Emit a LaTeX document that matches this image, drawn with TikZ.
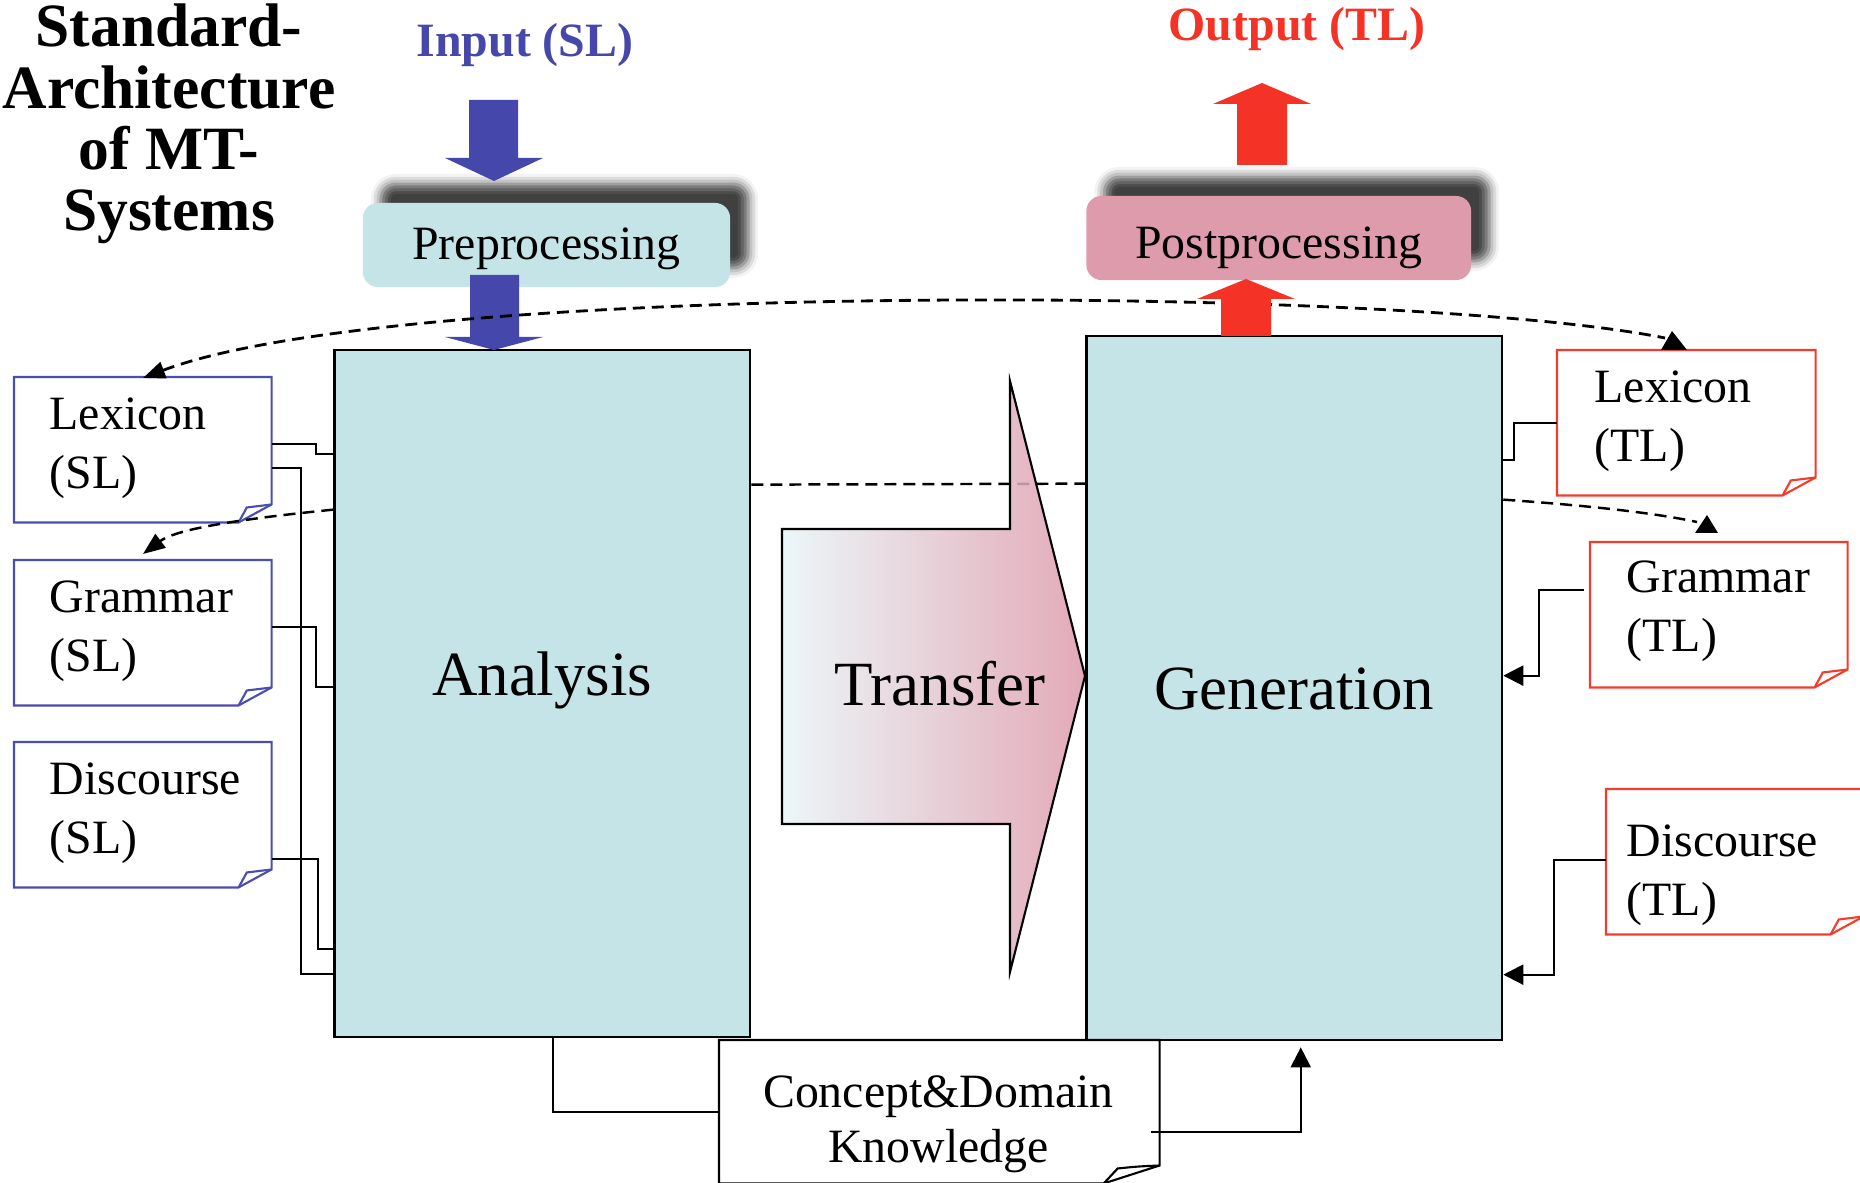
\documentclass[tikz,border=0pt]{standalone}
\usepackage{fontspec}
\setmainfont{Liberation Serif}
\usetikzlibrary{arrows.meta,calc,shadows.blur}
\definecolor{boxcyan}{HTML}{C5E4E7}
\definecolor{boxpink}{HTML}{DE9BAC}
\definecolor{arrblue}{HTML}{4548AA}
\definecolor{arrred}{HTML}{F43226}
\definecolor{docblue}{HTML}{4A4EB0}
\definecolor{docred}{HTML}{F43C2C}
\definecolor{tleft}{HTML}{E8F5F7}
\newcommand\bigfnt{\fontsize{17.9pt}{20pt}\selectfont}
\newcommand\medfnt{\fontsize{13.6pt}{16.5pt}\selectfont}
\newcommand\twolines[2]{\begin{tabular}[t]{@{}l@{}}#1\\#2\end{tabular}}
\newcommand\docoutline[3]{%
  \draw[#2, line width=0.6pt, fill=white] (#1.north west) -- (#1.north east) -- ($(#1.south east)+(0,-18)$) -- ($(#1.south east)+(-#3,0)$) -- (#1.south west) -- cycle;
  \draw[#2, line width=0.6pt] ($(#1.south east)+(-#3,0)$) -- ($(#1.south east)+(-#3*0.75,-15)$) .. controls ($(#1.south east)+(-#3*0.4,-17)$) .. ($(#1.south east)+(0,-18)$);}
\tikzset{
  mainbox/.style={draw=black, line width=0.65pt, fill=boxcyan, minimum width=4.155cm, inner sep=0, font=\bigfnt},
  procbox/.style={draw=none, rounded corners=0.15cm, inner sep=0, font=\medfnt, minimum height=0.84cm,
    blur shadow={shadow xshift=0.18cm, shadow yshift=0.19cm, shadow blur radius=0.1cm, shadow opacity=75}},
  docbox/.style={anchor=north west, minimum width=2.56cm, minimum height=1.44cm, inner sep=0, draw=none},
  doctext/.style={anchor=base west, inner sep=0, font=\medfnt},
  conn/.style={draw=black, line width=0.6pt},
  conntip/.style={-{Triangle[length=0.2cm,width=0.2cm]}},
  dashline/.style={draw=black, line width=0.7pt, dash pattern=on 0.12cm off 0.07cm},
  dashtip/.style={-{Triangle[length=0.22cm,width=0.17cm]}},
}
\begin{document}
\begin{tikzpicture}[x=0.01cm, y=-0.01cm, line join=miter]
\useasboundingbox (0,0) rectangle (1860,1183);
\clip (0,0) rectangle (1860,1183);

% title
\node[anchor=base, inner sep=0, font=\fontsize{17.5pt}{17.36pt}\selectfont\bfseries] (title) at (169,47)
  {\begin{tabular}[t]{@{}c@{}}Standard-\\Architecture\\of MT-\\Systems\end{tabular}};

% main boxes
\node[mainbox, minimum height=6.87cm, text height=0.30cm, text depth=0.25cm] (ana) at (542.25,693.5) {Analysis};
\node[mainbox, minimum height=7.04cm, text height=0.49cm, text depth=0.07cm] (gen) at (1294.25,688) {Generation};

% dashed line between analysis and generation, then transfer arrow
\draw[dashline] ($(ana.north east)+(0,136)$) -- ($(gen.north west)+(0,149)$);
\shadedraw[left color=tleft, right color=boxpink, draw=black, line width=0.6pt, fill opacity=0.85]
  (782,529) -- (1010,529) -- (1010,381) -- (1085,676) -- (1010,972) -- (1010,824) -- (782,824) -- cycle;
\node[font=\bigfnt, anchor=base, inner sep=0] (tr) at (940,706) {Transfer};

% pre/post processing
\node[procbox, fill=boxcyan, minimum width=3.67cm, text height=0.40cm, text depth=0.10cm] (pre) at (546.5,245) {Preprocessing};
\node[procbox, fill=boxpink, minimum width=3.845cm, text height=0.48cm, text depth=0.08cm] (post) at (1278.75,238) {Postprocessing};

% input / output labels
\node[font=\medfnt\bfseries, text=arrblue, anchor=base, inner sep=0] (in) at (525,57) {Input (SL)};
\node[font=\medfnt\bfseries, text=arrred, anchor=base, inner sep=0] (out) at (1297,41) {Output (TL)};

% blue block arrows
\fill[arrblue] (469,100) -- (518,100) -- (518,158) -- (543,158) -- (494,181) -- (445,158) -- (469,158) -- cycle;
\fill[arrblue] (470,275) -- (519,275) -- (519,337) -- (543,337) -- (494,350) -- (445,337) -- (470,337) -- cycle;

% documents (SL)
\node[docbox] (lexsl) at (14,377) {};
\docoutline{lexsl}{docblue}{33}
\node[doctext] (lexslt) at ($(lexsl.north west)+(35,53)$) {\twolines{Lexicon}{(SL)}};
\node[docbox] (grsl) at (14,560) {};
\docoutline{grsl}{docblue}{33}
\node[doctext] (grslt) at ($(grsl.north west)+(35,53)$) {\twolines{Grammar}{(SL)}};
\node[docbox] (dssl) at (14,742) {};
\docoutline{dssl}{docblue}{33}
\node[doctext] (dsslt) at ($(dssl.north west)+(35,53)$) {\twolines{Discourse}{(SL)}};

% documents (TL)
\node[docbox, minimum width=2.57cm] (lextl) at (1557,350) {};
\docoutline{lextl}{docred}{33}
\node[doctext] (lextlt) at ($(lextl.north west)+(37,53)$) {\twolines{Lexicon}{(TL)}};
\node[docbox] (grtl) at (1590,542) {};
\docoutline{grtl}{docred}{33}
\node[doctext] (grtlt) at ($(grtl.north west)+(36,51)$) {\twolines{Grammar}{(TL)}};
\node[docbox] (dstl) at (1606,789) {};
\docoutline{dstl}{docred}{33}
\node[doctext] (dstlt) at ($(dstl.north west)+(20,68)$) {\twolines{Discourse}{(TL)}};

% concept box
\node[docbox, minimum width=4.39cm, minimum height=1.42cm] (con) at (719,1040) {};
\docoutline{con}{black}{56}
\node[anchor=base, inner sep=0, font=\fontsize{13.6pt}{15.4pt}\selectfont] (cont) at (938.5,1108)
  {\begin{tabular}[t]{@{}c@{}}Concept\&Domain\\Knowledge\end{tabular}};

% left connectors
\draw[conn] ($(lexsl.north east)+(0,67)$) -- ++(44,0) |- ($(ana.north west)+(0,105)$);
\draw[conn] ($(lexsl.north east)+(0,91)$) -- ++(29,0) |- ($(ana.north west)+(0,625)$);
\draw[conn] ($(grsl.north east)+(0,67)$) -- ++(44,0) |- ($(ana.north west)+(0,338)$);
\draw[conn] ($(dssl.north east)+(0,117)$) -- ++(46,0) |- ($(ana.north west)+(0,600)$);

% right connectors
\draw[conn] (lextl.west) -- ++(-43,0) |- ($(gen.north east)+(0,125)$);
\draw[conn, conntip, shorten <=0.06cm] ($(grtl.north west)+(0,48)$) -- ++(-51,0) |- ($(gen.north east)+(0,341)$);
\draw[conn, conntip] ($(dstl.north west)+(0,71)$) -- ++(-52,0) |- ($(gen.north east)+(0,640)$);

% bottom connectors
\draw[conn] ($(ana.south west)+(220,0)$) |- (con.west);
\draw[conn, conntip, shorten <=-0.09cm] ($(con.north east)+(0,92)$) -| ($(gen.south west)+(215.5,6)$);

% dashed arcs
\draw[dashline, line width=0.8pt, {Triangle[length=0.22cm,width=0.17cm]}-]
  ($(lexsl.north west)+(129,1)$) .. controls (400,280) and (1400,285) .. ($(lextl.north west)+(108,-12)$);
\fill[black] ($(lextl.north west)+(115,-19)$) -- ($(lextl.north west)+(104,0)$) -- ($(lextl.north west)+(130,0)$) -- cycle;
\draw[dashline, dashtip] ($(ana.north west)+(0,161)$) .. controls (230,520) and (175,530) .. ($(grsl.north west)+(129,-6)$);
\draw[dashline] ($(gen.north east)+(0,165)$) .. controls (1580,505) and (1650,512) .. ($(grtl.north west)+(107,-20)$);
\fill[black] ($(grtl.north west)+(117,-27)$) -- ($(grtl.north west)+(105,-9)$) -- ($(grtl.north west)+(128,-9)$) -- cycle;

% red block arrows
\fill[arrred] (1237,165) -- (1237,104) -- (1213,104) -- (1262,83) -- (1311,104) -- (1287,104) -- (1287,165) -- cycle;
\fill[arrred] (1221,336) -- (1221,299) -- (1197,299) -- (1246,279) -- (1295,299) -- (1271,299) -- (1271,336) -- cycle;
\end{tikzpicture}
\end{document}
